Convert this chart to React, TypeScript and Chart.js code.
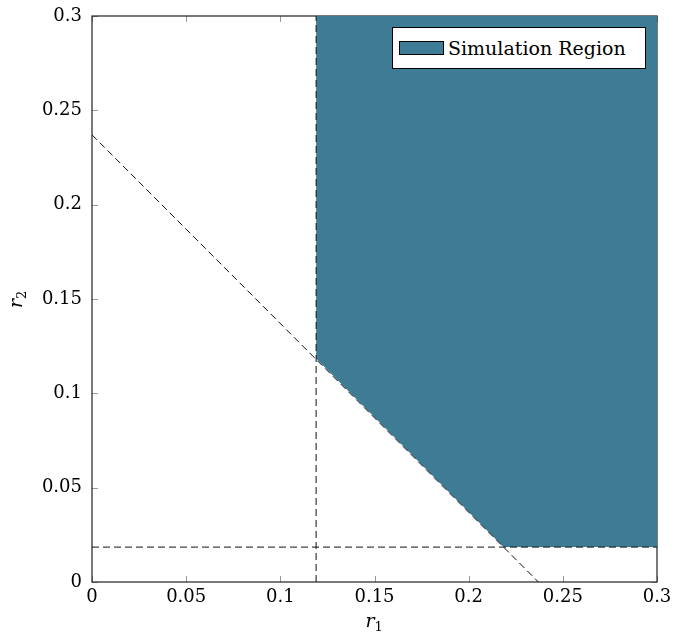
import React, { useEffect, useRef } from "react";
import { Chart, registerables } from "chart.js";

Chart.register(...registerables);

// Data
const regionLabel = "Simulation Region";
const regionX = [0.119, 0.2185, 0.3];
const regionY = [0.1185, 0.0185, 0.0185];
const verticalX = [0.119, 0.119];
const verticalY = [0, 0.3];
const horizontalX = [0, 0.3];
const horizontalY = [0.0185, 0.0185];
const diagonalX = [0, 0.237];
const diagonalY = [0.237, 0];
const tickValues = [0, 0.05, 0.1, 0.15, 0.2, 0.25, 0.3];
const tickLabels = ["0", "0.05", "0.1", "0.15", "0.2", "0.25", "0.3"];

const FONT = "'DejaVu Serif', 'Liberation Serif', serif";
const FILL = "rgb(62,123,148)";

const zip = (xs: number[], ys: number[]) => xs.map((x, i) => ({ x, y: ys[i] }));

const framePlugin = {
  id: "frame",
  beforeDatasetsDraw(chart: any) {
    const { ctx, chartArea: a, scales } = chart;
    ctx.save();
    ctx.strokeStyle = "#999";
    ctx.lineWidth = 1;
    const len = 6;
    tickValues.forEach((v) => {
      const px = Math.round(scales.x.getPixelForValue(v)) + 0.5;
      const py = Math.round(scales.y.getPixelForValue(v)) + 0.5;
      ctx.beginPath();
      ctx.moveTo(px, a.bottom);
      ctx.lineTo(px, a.bottom - len);
      ctx.moveTo(px, a.top);
      ctx.lineTo(px, a.top + len);
      ctx.moveTo(a.left, py);
      ctx.lineTo(a.left + len, py);
      ctx.moveTo(a.right, py);
      ctx.lineTo(a.right - len, py);
      ctx.stroke();
    });
    ctx.strokeStyle = "#222";
    ctx.lineWidth = 1.2;
    ctx.strokeRect(a.left, a.top, a.right - a.left, a.bottom - a.top);
    ctx.restore();
  },
};

const subTitlePlugin = {
  id: "subTitles",
  afterDraw(chart: any) {
    const { ctx, chartArea: a } = chart;
    ctx.save();
    ctx.fillStyle = "#000";
    ctx.textBaseline = "alphabetic";
    const cx = (a.left + a.right) / 2;
    ctx.font = `italic 19px ${FONT}`;
    const rw = ctx.measureText("r").width;
    ctx.textAlign = "left";
    ctx.fillText("r", cx - 9, 627);
    ctx.font = `13px ${FONT}`;
    ctx.fillText("1", cx - 9 + rw, 631);
    const cy = (a.top + a.bottom) / 2;
    ctx.translate(22, cy);
    ctx.rotate(-Math.PI / 2);
    ctx.font = `italic 19px ${FONT}`;
    ctx.fillText("r", -9, 0);
    ctx.font = `13px ${FONT}`;
    ctx.fillText("2", -9 + rw, 4);
    ctx.restore();
  },
};

export default function App() {
  const ref = useRef<HTMLCanvasElement>(null);
  useEffect(() => {
    document.body.style.margin = "0";
    document.documentElement.style.overflow = "hidden";
    if (!ref.current) return;
    const dashed = {
      borderColor: "#111",
      borderWidth: 1,
      borderDash: [7, 4],
      pointRadius: 0,
      showLine: true,
      fill: false,
      order: 0,
    };
    const chart = new Chart(ref.current, {
      type: "scatter",
      data: {
        datasets: [
          {
            label: regionLabel,
            data: zip(regionX, regionY),
            showLine: true,
            borderWidth: 0,
            borderColor: FILL,
            backgroundColor: FILL,
            pointRadius: 0,
            fill: "end",
            order: 10,
          } as any,
          { label: "r1", data: zip(verticalX, verticalY), ...dashed } as any,
          { label: "r2", data: zip(horizontalX, horizontalY), ...dashed } as any,
          { label: "sum", data: zip(diagonalX, diagonalY), ...dashed } as any,
        ],
      },
      options: {
        animation: false,
        responsive: true,
        maintainAspectRatio: false,
        layout: { padding: { top: 16, right: 16, left: 0, bottom: 0 } },
        plugins: { legend: { display: false }, tooltip: { enabled: false } },
        scales: {
          x: {
            type: "linear",
            min: 0,
            max: 0.3,
            grid: { display: false, drawTicks: false },
            border: { display: false },
            afterBuildTicks: (s: any) => {
              s.ticks = tickValues.map((v) => ({ value: v }));
            },
            afterFit: (s: any) => {
              s.height = 55;
              s.paddingLeft = 0;
              s.paddingRight = 0;
            },
            ticks: {
              padding: 5,
              color: "#000",
              font: { family: FONT, size: 18 },
              callback: (v: any) => tickLabels[tickValues.indexOf(Number(v))] ?? "",
              maxRotation: 0,
            },
          },
          y: {
            type: "linear",
            min: 0,
            max: 0.3,
            grid: { display: false, drawTicks: false },
            border: { display: false },
            afterBuildTicks: (s: any) => {
              s.ticks = tickValues.map((v) => ({ value: v }));
            },
            afterFit: (s: any) => {
              s.width = 92;
              s.paddingTop = 0;
              s.paddingBottom = 0;
            },
            ticks: {
              padding: 10,
              color: "#000",
              font: { family: FONT, size: 18 },
              callback: (v: any) => tickLabels[tickValues.indexOf(Number(v))] ?? "",
            },
          },
        },
      } as any,
      plugins: [framePlugin, subTitlePlugin],
    });
    return () => chart.destroy();
  }, []);

  return (
    <div style={{ position: "relative", width: 673, height: 637 }}>
      <canvas ref={ref} />
      <div
        style={{
          position: "absolute",
          left: 392,
          top: 27,
          width: 252,
          height: 40,
          border: "1px solid #000",
          background: "#fff",
          display: "flex",
          alignItems: "center",
          fontFamily: FONT,
          fontSize: 19,
          color: "#000",
          boxSizing: "content-box",
          whiteSpace: "nowrap",
        }}
      >
        <div
          style={{
            marginLeft: 6,
            width: 43,
            height: 12,
            background: FILL,
            border: "1px solid #000",
            marginRight: 4,
            flex: "none",
          }}
        />
        <span>{regionLabel}</span>
      </div>
    </div>
  );
}
